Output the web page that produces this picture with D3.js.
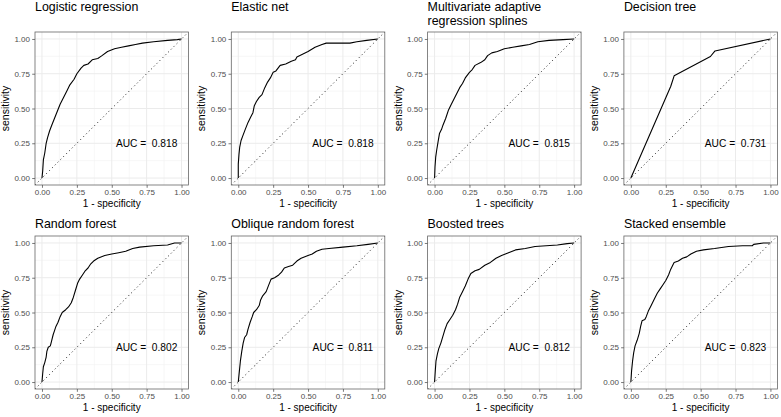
<!DOCTYPE html>
<html>
<head>
<meta charset="utf-8">
<script src="https://cdn.jsdelivr.net/npm/d3@7"></script>
<style>
  body { margin: 0; background: #fff; }
  text { font-family: "Liberation Sans", Arial, Helvetica, sans-serif; }
</style>
</head>
<body>
<div id="chart"></div>
<script>
// panel titles (one entry per line) and AUC labels
const modelTitles = [
    ["Logistic regression"], ["Elastic net"], ["Multivariate adaptive", "regression splines"], ["Decision tree"],
    ["Random forest"], ["Oblique random forest"], ["Boosted trees"], ["Stacked ensemble"]
];
const aucValues = ["0.818", "0.818", "0.815", "0.731", "0.802", "0.811", "0.812", "0.823"];
const tickValues = [0, 0.25, 0.5, 0.75, 1];
const minorTicks = [0.125, 0.375, 0.625, 0.875];

// ROC points [1 - specificity, sensitivity]
const rocLogistic = [[0,0],[0.005,0.05],[0.01,0.13],[0.02,0.18],[0.03,0.25],[0.04,0.29],[0.055,0.34],[0.07,0.38],[0.09,0.43],[0.11,0.48],[0.13,0.53],[0.15,0.57],[0.18,0.63],[0.2,0.67],[0.23,0.71],[0.25,0.75],[0.28,0.79],[0.3,0.81],[0.33,0.82],[0.36,0.85],[0.4,0.86],[0.43,0.88],[0.47,0.91],[0.52,0.93],[0.57,0.94],[0.62,0.95],[0.67,0.96],[0.72,0.97],[0.8,0.98],[0.9,0.99],[0.97,0.995],[1,1]];
const rocElastic = [[0,0],[0,0.1],[0.005,0.17],[0.01,0.22],[0.02,0.27],[0.035,0.31],[0.05,0.35],[0.07,0.4],[0.09,0.44],[0.105,0.47],[0.115,0.52],[0.13,0.55],[0.15,0.58],[0.17,0.6],[0.19,0.65],[0.21,0.69],[0.23,0.72],[0.25,0.76],[0.27,0.77],[0.3,0.81],[0.34,0.82],[0.38,0.84],[0.41,0.85],[0.42,0.87],[0.46,0.89],[0.5,0.91],[0.55,0.94],[0.6,0.96],[0.63,0.97],[0.7,0.97],[0.8,0.97],[0.85,0.98],[0.92,0.99],[1,1]];
const rocMars = [[0,0],[0.003,0.08],[0.008,0.15],[0.015,0.2],[0.025,0.26],[0.035,0.32],[0.05,0.35],[0.06,0.38],[0.08,0.43],[0.1,0.49],[0.12,0.53],[0.14,0.57],[0.16,0.61],[0.18,0.65],[0.2,0.68],[0.22,0.72],[0.25,0.76],[0.27,0.78],[0.29,0.81],[0.33,0.83],[0.36,0.85],[0.38,0.88],[0.41,0.9],[0.45,0.91],[0.5,0.93],[0.56,0.94],[0.62,0.95],[0.68,0.96],[0.74,0.98],[0.82,0.99],[0.92,0.995],[1,1]];
const rocTree = [[0,0],[0.286,0.66],[0.31,0.735],[0.57,0.874],[0.603,0.914],[1,1]];
const rocForest = [[0,0],[0.005,0.06],[0.01,0.11],[0.02,0.14],[0.03,0.18],[0.035,0.22],[0.045,0.25],[0.06,0.26],[0.07,0.3],[0.08,0.34],[0.09,0.37],[0.1,0.4],[0.115,0.43],[0.13,0.47],[0.145,0.5],[0.17,0.52],[0.19,0.54],[0.21,0.57],[0.225,0.61],[0.24,0.66],[0.255,0.71],[0.27,0.74],[0.29,0.77],[0.31,0.8],[0.33,0.82],[0.35,0.85],[0.37,0.87],[0.4,0.89],[0.45,0.91],[0.5,0.92],[0.55,0.93],[0.6,0.94],[0.65,0.96],[0.7,0.97],[0.8,0.98],[0.9,0.985],[0.95,1],[1,1]];
const rocOblique = [[0,0],[0.005,0.05],[0.015,0.15],[0.025,0.22],[0.035,0.28],[0.045,0.32],[0.06,0.34],[0.07,0.38],[0.085,0.43],[0.1,0.47],[0.11,0.5],[0.13,0.52],[0.15,0.55],[0.16,0.59],[0.175,0.62],[0.2,0.65],[0.215,0.69],[0.235,0.74],[0.26,0.75],[0.29,0.77],[0.31,0.79],[0.33,0.82],[0.36,0.83],[0.39,0.84],[0.42,0.87],[0.45,0.89],[0.5,0.91],[0.53,0.92],[0.56,0.94],[0.6,0.955],[0.65,0.96],[0.75,0.97],[0.85,0.98],[0.93,0.99],[1,1]];
const rocBoosted = [[0,0],[0.005,0.08],[0.01,0.15],[0.02,0.2],[0.03,0.24],[0.045,0.28],[0.06,0.33],[0.075,0.38],[0.09,0.42],[0.11,0.45],[0.13,0.48],[0.15,0.52],[0.165,0.56],[0.18,0.61],[0.2,0.65],[0.22,0.69],[0.24,0.74],[0.26,0.78],[0.29,0.8],[0.32,0.81],[0.36,0.84],[0.4,0.86],[0.44,0.89],[0.48,0.91],[0.53,0.93],[0.58,0.95],[0.65,0.96],[0.72,0.975],[0.8,0.98],[0.88,0.985],[0.95,0.995],[1,1]];
const rocStacked = [[0,0],[0.005,0.08],[0.012,0.15],[0.02,0.21],[0.03,0.26],[0.045,0.3],[0.06,0.35],[0.07,0.4],[0.08,0.44],[0.1,0.45],[0.11,0.47],[0.125,0.51],[0.14,0.54],[0.155,0.57],[0.17,0.6],[0.19,0.64],[0.21,0.67],[0.23,0.7],[0.25,0.73],[0.27,0.77],[0.285,0.81],[0.3,0.84],[0.31,0.86],[0.34,0.87],[0.37,0.89],[0.4,0.9],[0.43,0.92],[0.47,0.94],[0.52,0.95],[0.6,0.96],[0.7,0.975],[0.8,0.98],[0.87,0.98],[0.88,0.99],[0.95,1],[1,1]];

const rocCurves = [rocLogistic, rocElastic, rocMars, rocTree, rocForest, rocOblique, rocBoosted, rocStacked];

const width = 781, height = 417;
const panelW = 153.5, panelH = 153;
const colLeft = i => 35 + i * 196.3;
const rowTop = [32, 236];

const svg = d3.select("#chart")
    .append("svg")
    .attr("width", width)
    .attr("height", height);

const x = d3.scaleLinear().domain([-0.05, 1.05]).range([0, panelW]);
const y = d3.scaleLinear().domain([-0.05, 1.05]).range([panelH, 0]);
const line = d3.line().x(d => x(d[0])).y(d => y(d[1]));

svg.append("defs").append("clipPath")
    .attr("id", "panel-clip")
    .append("rect")
    .attr("width", panelW)
    .attr("height", panelH);

rocCurves.forEach((curve, i) => {
    const col = i % 4, row = Math.floor(i / 4);
    const g = svg.append("g")
        .attr("transform", `translate(${colLeft(col)}, ${rowTop[row]})`);

    // minor grid
    g.selectAll(".minor-x").data(minorTicks).enter().append("line")
        .attr("x1", d => x(d)).attr("x2", d => x(d))
        .attr("y1", 0).attr("y2", panelH)
        .attr("stroke", "#F2F2F2").attr("stroke-width", 0.6);
    g.selectAll(".minor-y").data(minorTicks).enter().append("line")
        .attr("y1", d => y(d)).attr("y2", d => y(d))
        .attr("x1", 0).attr("x2", panelW)
        .attr("stroke", "#F2F2F2").attr("stroke-width", 0.6);

    // major grid
    g.selectAll(".major-x").data(tickValues).enter().append("line")
        .attr("x1", d => x(d)).attr("x2", d => x(d))
        .attr("y1", 0).attr("y2", panelH)
        .attr("stroke", "#EBEBEB").attr("stroke-width", 1);
    g.selectAll(".major-y").data(tickValues).enter().append("line")
        .attr("y1", d => y(d)).attr("y2", d => y(d))
        .attr("x1", 0).attr("x2", panelW)
        .attr("stroke", "#EBEBEB").attr("stroke-width", 1);

    // diagonal reference
    g.append("line")
        .attr("clip-path", "url(#panel-clip)")
        .attr("x1", x(-0.05)).attr("y1", y(-0.05))
        .attr("x2", x(1.05)).attr("y2", y(1.05))
        .attr("stroke", "#000")
        .attr("stroke-width", 0.9)
        .attr("stroke-dasharray", "1,3");

    // ROC curve
    g.append("path")
        .datum(curve)
        .attr("d", line)
        .attr("fill", "none")
        .attr("stroke", "#000")
        .attr("stroke-width", 1.1)
        .attr("stroke-linejoin", "round");

    // AUC label
    g.append("text")
        .attr("x", x(0.75))
        .attr("y", y(0.25))
        .attr("dy", "0.36em")
        .attr("text-anchor", "middle")
        .style("white-space", "pre")
        .style("font-size", "10.2px")
        .style("fill", "#000")
        .text(`AUC =  ${aucValues[i]}`);

    // border
    g.append("rect")
        .attr("width", panelW).attr("height", panelH)
        .attr("fill", "none")
        .attr("stroke", "#666")
        .attr("stroke-width", 0.8);

    // axes
    const xAxis = g.append("g")
        .attr("transform", `translate(0, ${panelH})`)
        .call(d3.axisBottom(x).tickValues(tickValues).tickFormat(d3.format(".2f")).tickSize(2.8).tickPadding(2));
    const yAxis = g.append("g")
        .call(d3.axisLeft(y).tickValues(tickValues).tickFormat(d3.format(".2f")).tickSize(2.8).tickPadding(2.2));
    [xAxis, yAxis].forEach(a => {
        a.select(".domain").remove();
        a.selectAll(".tick line").attr("stroke", "#555").attr("stroke-width", 0.8);
        a.selectAll(".tick text")
            .style("font-family", "'Liberation Sans', Arial, sans-serif")
            .style("font-size", "8px")
            .style("fill", "#4D4D4D");
    });

    // axis titles
    g.append("text")
        .attr("x", panelW / 2)
        .attr("y", panelH + 21.5)
        .attr("text-anchor", "middle")
        .style("font-size", "10px")
        .text("1 - specificity");
    g.append("text")
        .attr("transform", `translate(-26, ${panelH / 2}) rotate(-90)`)
        .attr("text-anchor", "middle")
        .style("font-size", "10.5px")
        .text("sensitivity");

    // title, bottom line sits just above the panel
    const lines = modelTitles[i];
    const title = g.append("text")
        .attr("x", 0)
        .style("font-size", "12.4px")
        .style("fill", "#000");
    lines.forEach((t, k) => {
        const baseline = row === 0 ? -21 + k * 13.5 : -8;
        title.append("tspan").attr("x", 0).attr("y", baseline).text(t);
    });
});
</script>
</body>
</html>
